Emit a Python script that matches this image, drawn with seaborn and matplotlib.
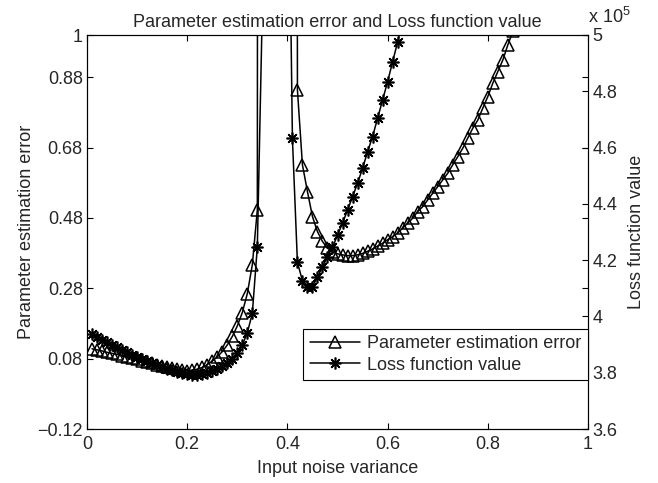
import matplotlib
matplotlib.use("Agg")
import matplotlib.pyplot as plt
import numpy as np
import seaborn as sns

# x grid (input noise variance), step 0.01
err_x = np.round(np.arange(1, 86) / 100, 2)
loss_x = np.round(np.arange(1, 64) / 100, 2)

# parameter estimation error (left axis); 0.35-0.41 are far above the plot
err_vals = [
    0.108, 0.105, 0.102, 0.098, 0.095, 0.092, 0.088, 0.085, 0.081, 0.078,
    0.074, 0.071, 0.067, 0.063, 0.060, 0.056, 0.053, 0.050, 0.047, 0.046,
    0.047, 0.050, 0.055, 0.063, 0.073, 0.085, 0.100, 0.119, 0.143, 0.173,
    0.211, 0.265, 0.347, 0.503,
    25.0, 60.0, 90.0, 90.0, 60.0, 35.0, 20.0,
    0.844, 0.631, 0.555, 0.484, 0.441, 0.413, 0.394, 0.384, 0.378, 0.375,
    0.373, 0.373, 0.375, 0.379, 0.385, 0.392, 0.400, 0.408, 0.418, 0.427,
    0.437, 0.451, 0.465, 0.479, 0.498, 0.512, 0.531, 0.550, 0.569, 0.588,
    0.607, 0.631, 0.654, 0.678, 0.707, 0.735, 0.758, 0.792, 0.825, 0.863,
    0.896, 0.929, 0.972, 1.010,
]

# loss function value (right axis, x 10^5)
loss_vals = [
    3.937, 3.928, 3.918, 3.908, 3.899, 3.890, 3.881, 3.872, 3.864, 3.856,
    3.848, 3.840, 3.833, 3.826, 3.820, 3.814, 3.808, 3.803, 3.798, 3.795,
    3.793, 3.793, 3.795, 3.799, 3.805, 3.813, 3.823, 3.835, 3.850, 3.870,
    3.898, 3.942, 4.011, 4.248,
    5.10, 7.0, 9.0, 9.0, 7.5, 6.0, 4.633,
    4.192, 4.127, 4.106, 4.106, 4.140, 4.176, 4.212, 4.245, 4.289, 4.331,
    4.378, 4.425, 4.473, 4.526, 4.585, 4.639, 4.704, 4.769, 4.834, 4.905,
    4.975, 5.050,
]

x_ticks = [0, 0.2, 0.4, 0.6, 0.8, 1]
x_labels = ["0", "0.2", "0.4", "0.6", "0.8", "1"]
left_ticks = [-0.12, 0.08, 0.28, 0.48, 0.68, 0.88, 1]
left_labels = ["\u22120.12", "0.08", "0.28", "0.48", "0.68", "0.88", "1"]
right_ticks = [3.6, 3.8, 4.0, 4.2, 4.4, 4.6, 4.8, 5.0]
right_labels = ["3.6", "3.8", "4", "4.2", "4.4", "4.6", "4.8", "5"]

sns.set_style("ticks")
plt.rcParams["font.family"] = ["Liberation Sans", "DejaVu Sans"]
plt.rcParams["mathtext.default"] = "regular"
fs = 13

fig = plt.figure(figsize=(6.58, 4.83), dpi=100)
ax = fig.add_axes([87 / 658, 54 / 483, 501 / 658, 394 / 483])
ax2 = ax.twinx()

sns.lineplot(x=err_x, y=err_vals, ax=ax, color="black", linewidth=1.1,
             marker="^", markersize=8.5, markerfacecolor="none",
             markeredgecolor="black", markeredgewidth=1.1,
             label="Parameter estimation error", legend=False)
sns.lineplot(x=loss_x, y=loss_vals, ax=ax2, color="black", linewidth=1.1,
             marker=(8, 2, 0), markersize=8.5, markeredgecolor="black",
             markeredgewidth=1.2, label="Loss function value", legend=False)

ax.set_xlim(0, 1)
ax.set_ylim(-0.12, 1)
ax2.set_ylim(3.6, 5)
ax.set_xticks(x_ticks)
ax.set_xticklabels(x_labels, fontsize=fs)
ax.set_yticks(left_ticks)
ax.set_yticklabels(left_labels, fontsize=fs)
ax2.set_yticks(right_ticks)
ax2.set_yticklabels(right_labels, fontsize=fs)

ax.tick_params(direction="in", length=4, width=0.8, color="black",
               top=True, right=True, pad=3)
ax.tick_params(axis="x", pad=5)
ax2.tick_params(direction="in", length=4, width=0.8, color="black", pad=3)
for a in (ax, ax2):
    for s in a.spines.values():
        s.set_color("black")
        s.set_linewidth(0.8)

ax.set_xlabel("Input noise variance", fontsize=fs, labelpad=5)
ax.set_ylabel("Parameter estimation error", fontsize=fs, labelpad=2)
ax2.set_ylabel("Loss function value", fontsize=fs, labelpad=8)
ax.set_title("Parameter estimation error and Loss function value",
             fontsize=fs, pad=6)
ax2.text(1.0, 1.03, "x $10^5$", transform=ax2.transAxes, fontsize=fs,
         ha="left", va="baseline")

handles = ax.get_lines()[:1] + ax2.get_lines()[:1]
leg = ax2.legend(handles, [h.get_label() for h in handles], loc="upper right",
                 bbox_to_anchor=(1.0, 0.254), fontsize=fs, frameon=True,
                 fancybox=False, edgecolor="black", framealpha=1,
                 borderaxespad=0, handlelength=2.8, handletextpad=0.4,
                 labelspacing=0.25, borderpad=0.35)
leg.get_frame().set_linewidth(0.8)

fig.savefig("out.png", dpi=100)
